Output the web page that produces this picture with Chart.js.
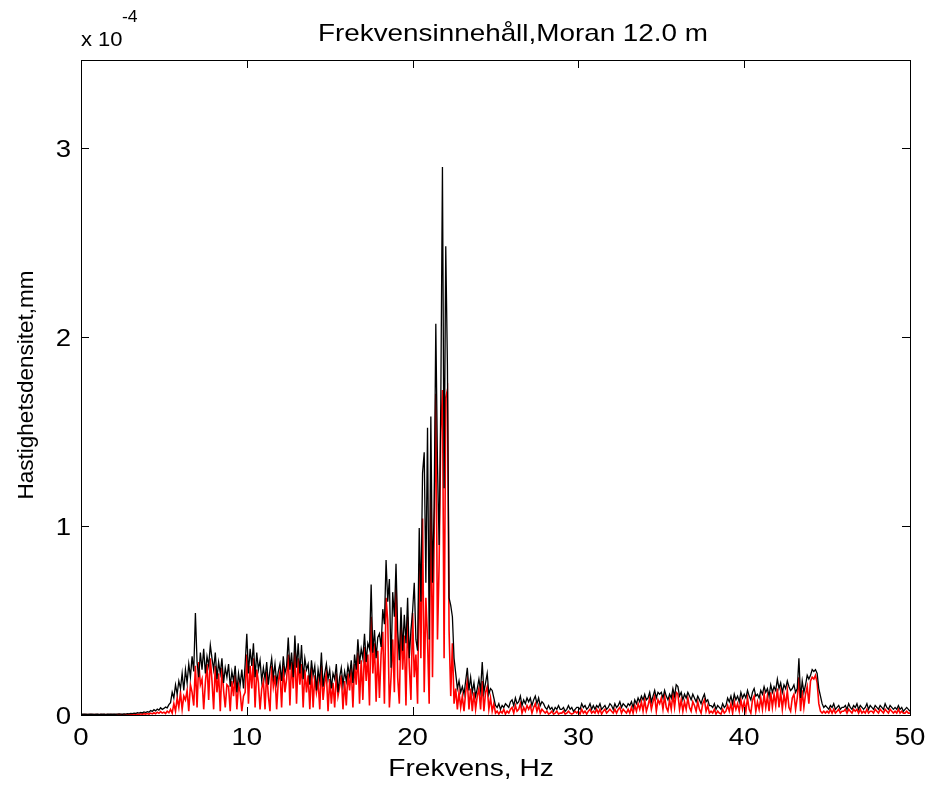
<!DOCTYPE html>
<html>
<head>
<meta charset="utf-8">
<script src="https://cdn.jsdelivr.net/npm/chart.js@4.4.3/dist/chart.umd.min.js"></script>
<style>
  html, body { margin: 0; padding: 0; background: #fff; }
  canvas { display: block; }
</style>
</head>
<body>
<canvas id="c" width="934" height="787"></canvas>
<script>
// spectrum sampled every 0.1 Hz from 0 to 50 Hz, amplitudes in 1e-6 mm
const df = 0.1;
const xTicks = [0, 10, 20, 30, 40, 50];
const xTickLabels = ['0', '10', '20', '30', '40', '50'];
const yTicks = [0, 100, 200, 300];           // shown as 0..3 (x 10^-4)
const yTickLabels = ['0', '1', '2', '3'];

const blackSeries = [
  0.5,0.4,0.5,0.4,0.3,0.4,0.5,0.4,0.3,0.4,
  0.4,0.3,0.4,0.5,0.4,0.3,0.4,0.5,0.4,0.4,
  0.5,0.4,0.5,0.6,0.5,0.4,0.6,0.5,0.7,0.6,
  0.8,0.7,1.0,0.8,1.2,1.0,1.4,1.1,1.6,1.3,
  1.8,1.5,2.4,1.9,2.8,2.2,3.1,2.6,3.8,3.0,
  3.5,4.2,3.8,5.5,6.5,12,9,16,11,18,
  14,22,13,24,17,27,20,31,23,54,
  28,20,33,24,35,22,31,26,37,30,
  24,33,19,28,22,30,17,25,20,27,
  15,23,18,26,12,22,16,24,14,27,
  43,22,35,26,38,20,33,24,29,18,
  25,19,28,16,24,30,20,27,17,23,
  27,18,31,22,26,41,24,33,20,42,
  25,38,22,37,19,30,24,27,16,29,
  21,26,13,24,18,33,15,22,27,19,
  24,14,22,19,27,12,20,25,16,23,
  18,26,21,29,17,32,24,40,27,35,
  30,43,28,38,35,69,33,45,30,41,
  43,36,56,48,82,60,72,25,65,52,
  80,45,29,57,34,53,38,62,30,45,
  55,70,40,34,99,60,128,139,70,152,
  40,158,70,110,207,133,90,165,290,120,
  248,185,62,58,52,30,22,14,18,12,
  15,11,18,25,13,20,12,17,10,14,
  19,13,28,12,17,22,11,14,13,9,
  5,4,6,3,5,4,6,5,4,7,
  8,5,9,6,7,10,5,8,6,9,
  7,9,5,8,10,6,9,5,7,6,
  4,3,5,3,4,2,4,3,5,3,
  3,4,2,3,5,3,4,2,3,4,
  4,3,6,4,5,3,4,6,3,5,
  3,5,4,6,3,4,5,3,4,6,
  5,3,6,4,5,7,4,6,5,4,
  6,5,7,4,8,6,9,7,10,8,
  11,8,9,12,7,10,13,9,12,11,
  12,9,13,10,8,11,9,14,10,16,
  15,10,12,8,11,9,12,10,8,11,
  9,7,10,8,6,9,11,7,8,5,
  5,4,6,3,5,4,3,6,4,5,
  9,7,10,6,11,8,10,7,12,9,
  11,9,13,10,8,12,14,10,11,9,
  13,11,15,12,14,10,16,12,15,13,
  19,14,17,12,16,14,18,15,13,14,
  16,12,14,30,9,18,12,16,21,19,
  21,24,23,24,22,14,10,6,4,5,
  4,3,5,4,6,3,4,5,3,4,
  4,5,3,6,4,3,5,4,6,3,
  5,4,3,4,6,3,5,4,3,5,
  4,3,5,4,3,6,4,3,5,4,
  3,4,3,5,3,4,2,3,4,3,
  2
];

const redSeries = [
  0.2,0.1,0.2,0.1,0.2,0.1,0.2,0.1,0.2,0.1,
  0.2,0.1,0.2,0.1,0.2,0.1,0.2,0.1,0.2,0.1,
  0.2,0.1,0.2,0.3,0.2,0.1,0.2,0.3,0.2,0.3,
  0.3,0.2,0.4,0.3,0.5,0.3,0.6,0.4,0.7,0.5,
  0.8,0.4,1.0,0.6,1.2,0.7,1.5,0.9,1.8,1.0,
  1.5,0.8,2.0,1.2,3,1,6,2,9,4,
  12,3,10,8,13,2,16,12,5,26,
  4,28,16,19,3,17,27,8,30,18,
  3,26,12,22,2,25,13,4,16,15,
  2,18,10,21,3,16,12,2,10,12,
  32,6,26,14,30,4,24,17,3,14,
  18,3,23,10,2,26,15,21,3,18,
  23,4,26,12,19,32,5,28,14,34,
  6,30,16,27,4,24,12,21,3,25,
  4,21,12,18,3,26,8,17,22,2,
  19,6,17,4,22,10,15,21,3,18,
  5,22,13,25,4,27,16,33,6,29,
  8,36,18,32,5,52,22,38,7,34,
  9,32,44,6,62,50,4,20,40,12,
  72,20,6,50,24,42,5,52,26,8,
  54,20,32,6,80,30,104,12,62,40,
  6,126,20,95,170,40,80,150,172,30,
  168,172,45,10,38,6,14,3,12,4,
  10,2,12,18,3,14,2,12,3,10,
  14,3,18,2,12,15,3,9,2,6,
  1,2,0.5,2,1,3,0.5,2,1,3,
  4,1,5,2,3,6,1,4,2,5,
  3,5,1,4,6,2,5,1,3,2,
  1,2,0.5,1,2,0.5,1,2,0.5,1,
  1,2,0.5,1,2,1,0.5,1,2,1,
  2,0.5,3,1,2,0.5,2,3,1,2,
  1,3,1,3,0.5,2,3,1,2,3,
  2,1,3,1,3,4,1,3,2,1,
  3,1,4,1,5,2,6,3,7,2,
  8,2,5,9,3,7,10,2,8,6,
  9,3,10,4,2,8,3,11,4,12,
  11,3,8,2,7,3,9,4,2,7,
  5,2,7,3,1,6,8,2,5,1,
  2,1,3,0.5,2,1,0.5,3,1,2,
  5,2,6,1,7,3,6,2,8,3,
  7,2,9,3,1,8,10,2,7,3,
  9,3,11,4,10,2,12,4,11,5,
  14,4,12,3,11,5,13,4,2,9,
  11,3,9,20,2,13,4,11,15,6,
  18,20,19,21,17,6,2,1,2,1,
  2,1,3,1,3,1,2,3,1,2,
  2,3,1,3,2,1,3,2,3,1,
  3,1,2,1,3,1,2,2,1,3,
  2,1,3,2,1,3,2,1,3,2,
  1,2,1,3,1,2,1,1,2,1,
  1
];

const toPoints = arr => arr.map((v, i) => ({ x: +(i * df).toFixed(1), y: v }));

const FONT = '"Liberation Sans", Arial, sans-serif';
const STRETCH = 1.15;   // the original figure is wider than it is tall

function drawText(ctx, text, x, y, size, align, sx) {
  ctx.save();
  ctx.font = size + 'px ' + FONT;
  ctx.textAlign = align;
  ctx.translate(x, y);
  ctx.scale(sx, 1);
  ctx.fillText(text, 0, 0);
  ctx.restore();
}

// frame, inward ticks on all four sides, tick labels, title, axis labels and exponent
const matlabFrame = {
  id: 'matlabFrame',
  afterDraw(chart) {
    const { ctx, chartArea: a, scales: { x, y } } = chart;
    ctx.save();
    ctx.strokeStyle = '#000';
    ctx.lineWidth = 1;
    ctx.strokeRect(a.left + 0.5, a.top + 0.5, a.right - a.left, a.bottom - a.top);
    const tl = 8;
    ctx.beginPath();
    xTicks.forEach(t => {
      const px = Math.round(x.getPixelForValue(t)) + 0.5;
      ctx.moveTo(px, a.bottom); ctx.lineTo(px, a.bottom - tl);
      ctx.moveTo(px, a.top); ctx.lineTo(px, a.top + tl);
    });
    yTicks.forEach(t => {
      const py = Math.round(y.getPixelForValue(t)) + 0.5;
      ctx.moveTo(a.left, py); ctx.lineTo(a.left + tl, py);
      ctx.moveTo(a.right, py); ctx.lineTo(a.right - tl, py);
    });
    ctx.stroke();

    ctx.fillStyle = '#000';
    ctx.textBaseline = 'alphabetic';
    xTicks.forEach((t, i) => drawText(ctx, xTickLabels[i], x.getPixelForValue(t), a.bottom + 30, 24, 'center', STRETCH));
    yTicks.forEach((t, i) => drawText(ctx, yTickLabels[i], a.left - 10, y.getPixelForValue(t) + 9, 24, 'right', STRETCH));

    drawText(ctx, 'Frekvensinnehåll,Moran 12.0 m', 513, 41, 24, 'center', 1.16);
    drawText(ctx, 'Frekvens, Hz', 471, 776, 24, 'center', 1.17);

    ctx.save();
    ctx.translate(33, 385);
    ctx.rotate(-Math.PI / 2);
    ctx.font = '22.5px ' + FONT;
    ctx.textAlign = 'center';
    ctx.fillText('Hastighetsdensitet,mm', 0, 0);
    ctx.restore();

    drawText(ctx, 'x 10', 81, 46, 20, 'left', 1.1);
    drawText(ctx, '-4', 122, 22, 16, 'left', 1.1);
    ctx.restore();
  }
};

new Chart(document.getElementById('c'), {
  type: 'line',
  data: {
    datasets: [
      {
        label: 'svart',
        data: toPoints(blackSeries),
        borderColor: '#000000',
        borderWidth: 1.3,
        pointRadius: 0,
        tension: 0,
        order: 0
      },
      {
        label: 'röd',
        data: toPoints(redSeries),
        borderColor: '#ff0000',
        borderWidth: 1.6,
        pointRadius: 0,
        tension: 0,
        order: 1
      }
    ]
  },
  options: {
    responsive: false,
    animation: false,
    devicePixelRatio: 1,
    layout: { padding: { top: 60, right: 24, left: 0, bottom: 0 } },
    plugins: {
      legend: { display: false },
      tooltip: { enabled: false },
      title: { display: false }
    },
    scales: {
      x: {
        type: 'linear',
        min: 0,
        max: 50,
        afterFit: s => { s.height = 72; },
        afterBuildTicks: s => { s.ticks = xTicks.map(v => ({ value: v })); },
        grid: { display: false },
        border: { display: false },
        ticks: { display: false }
      },
      y: {
        type: 'linear',
        min: 0,
        max: 346.6,
        afterFit: s => { s.width = 81; },
        afterBuildTicks: s => { s.ticks = yTicks.map(v => ({ value: v })); },
        grid: { display: false },
        border: { display: false },
        ticks: { display: false }
      }
    }
  },
  plugins: [matlabFrame]
});
</script>
</body>
</html>
